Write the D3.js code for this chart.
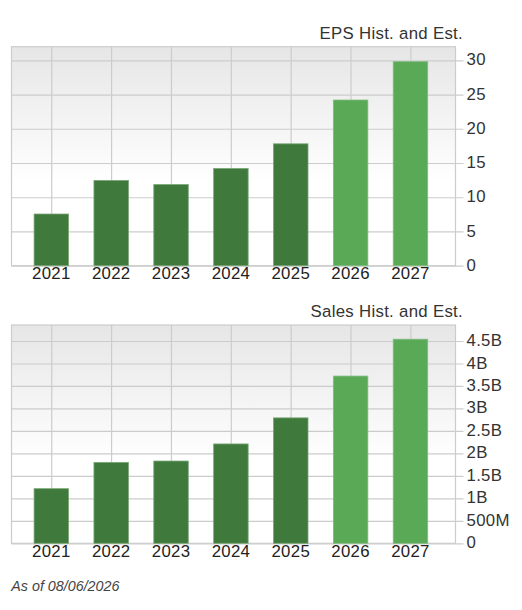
<!DOCTYPE html>
<html>
<head>
<meta charset="utf-8">
<script src="https://cdn.jsdelivr.net/npm/d3@7"></script>
<style>
  html, body { margin: 0; padding: 0; background: #fff; }
  svg { display: block; }
  text { font-family: "Liberation Sans", Arial, sans-serif; fill: #333; }
</style>
</head>
<body>
<svg id="chart" width="522" height="610"></svg>
<script>
var years = ["2021", "2022", "2023", "2024", "2025", "2026", "2027"];
var estimated = ["2026", "2027"];

var epsValues = [7.55, 12.45, 11.85, 14.2, 17.8, 24.2, 29.8];
var epsTicks = [0, 5, 10, 15, 20, 25, 30];
var epsTickLabels = ["0", "5", "10", "15", "20", "25", "30"];

var salesValues = [1.215e9, 1.8e9, 1.83e9, 2.21e9, 2.79e9, 3.72e9, 4.54e9];
var salesTicks = [0, 0.5e9, 1e9, 1.5e9, 2e9, 2.5e9, 3e9, 3.5e9, 4e9, 4.5e9];
var salesTickLabels = ["0", "500M", "1B", "1.5B", "2B", "2.5B", "3B", "3.5B", "4B", "4.5B"];

var svg = d3.select("#chart");

var grad = svg.append("defs").append("linearGradient")
    .attr("id", "plotBg")
    .attr("x1", 0).attr("y1", 0).attr("x2", 0).attr("y2", 1);
grad.append("stop").attr("offset", "0%").attr("stop-color", "#e6e6e6");
grad.append("stop").attr("offset", "62%").attr("stop-color", "#ffffff");

var left = 11.5, right = 455.5;
var labelSize = "16.8px", labelSpacing = "0.3px";
var x = d3.scaleBand().domain(years).range([21.4, 440.4]).paddingInner(0.424).paddingOuter(0.212);

function drawChart(opt) {
    var y = d3.scaleLinear().domain([0, opt.ticks[opt.ticks.length - 1]]).range([opt.zeroY, opt.maxY]);
    var g = svg.append("g");

    g.append("rect")
        .attr("x", left).attr("y", opt.top)
        .attr("width", right - left).attr("height", opt.zeroY - opt.top)
        .attr("fill", "url(#plotBg)");

    // vertical grid
    g.selectAll(".vgrid").data(years).enter().append("line")
        .attr("class", "vgrid")
        .attr("x1", function(d) { return x(d) + x.bandwidth() / 2 + 0.4; })
        .attr("x2", function(d) { return x(d) + x.bandwidth() / 2 + 0.4; })
        .attr("y1", opt.top).attr("y2", opt.zeroY)
        .attr("stroke", "#cccccc").attr("stroke-width", 1.2);

    // horizontal grid + ticks + labels come from the axis
    var yAxis = d3.axisRight(y)
        .tickValues(opt.ticks)
        .tickSize(right - left + 8)
        .tickPadding(3)
        .tickFormat(function(d, i) { return opt.tickLabels[i]; });
    var ya = g.append("g").attr("transform", "translate(" + left + ",0)").call(yAxis);
    ya.select(".domain").remove();
    ya.selectAll("line").attr("stroke", "#cccccc").attr("stroke-width", 1.2);
    ya.selectAll("text")
        .style("font-size", labelSize)
        .style("letter-spacing", labelSpacing)
        .style("fill", "#333")
        .attr("dy", "0.27em");

    g.append("rect")
        .attr("x", left).attr("y", opt.top)
        .attr("width", right - left).attr("height", opt.zeroY - opt.top)
        .attr("fill", "none").attr("stroke", "#cccccc").attr("stroke-width", 1.2);

    g.selectAll(".bar").data(opt.values).enter().append("rect")
        .attr("class", "bar")
        .attr("x", function(d, i) { return x(years[i]); })
        .attr("width", x.bandwidth())
        .attr("y", function(d) { return y(d); })
        .attr("height", function(d) { return opt.zeroY - y(d); })
        .attr("fill", function(d, i) { return estimated.indexOf(years[i]) >= 0 ? "#5aa957" : "#3f7a3c"; })
        .attr("stroke", function(d, i) { return estimated.indexOf(years[i]) >= 0 ? "#7fbd7c" : "#78a676"; })
        .attr("stroke-width", 0.8);

    var xAxis = d3.axisBottom(x).tickSize(0).tickPadding(0);
    var xa = g.append("g").attr("transform", "translate(0," + opt.zeroY + ")").call(xAxis);
    xa.select(".domain").remove();
    xa.selectAll("text")
        .style("font-size", labelSize)
        .style("letter-spacing", labelSpacing)
        .style("fill", "#222")
        .attr("y", 13.6)
        .attr("dy", 0);

    g.append("text")
        .attr("x", 463).attr("y", opt.titleY)
        .attr("text-anchor", "end")
        .style("font-size", labelSize)
        .style("letter-spacing", labelSpacing)
        .text(opt.title);
}

drawChart({
    title: "EPS Hist. and Est.", titleY: 39.3,
    values: epsValues, ticks: epsTicks, tickLabels: epsTickLabels,
    top: 46.7, zeroY: 265.7, maxY: 60.3
});

drawChart({
    title: "Sales Hist. and Est.", titleY: 317,
    values: salesValues, ticks: salesTicks, tickLabels: salesTickLabels,
    top: 325, zeroY: 543.3, maxY: 341
});

svg.append("text")
    .attr("x", 11.3).attr("y", 590.7)
    .style("font-size", "14.3px")
    .style("font-style", "italic")
    .style("fill", "#444")
    .text("As of 08/06/2026");
</script>
</body>
</html>
